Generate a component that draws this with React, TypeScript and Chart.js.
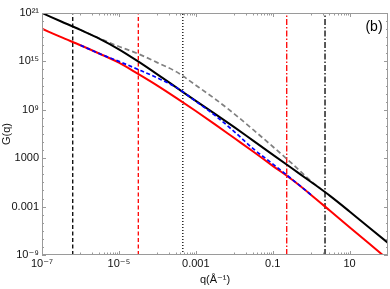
import React, { useEffect, useRef } from "react";
import { Chart, registerables } from "chart.js";

Chart.register(...registerables);

// log10 of q (Å^-1) sample positions
const qLog = [-7, -6.5, -6, -5.5, -5, -4.5, -4, -3.5, -3, -2.5, -2, -1.5, -1, -0.5, 0, 0.5, 1, 1.5, 2];
// log10 G(q) — black solid
const blackLogG = [21.0, 19.95, 18.9, 17.8, 16.5, 15.0, 13.4, 11.75, 10.1, 8.5, 6.85, 5.15, 3.45, 1.75, 0.05, -1.7, -3.6, -5.55, -7.5];
// log10 G(q) — red solid
const redLogG = [19.05, 18.0, 17.0, 15.95, 14.85, 13.45, 12.0, 10.45, 8.85, 7.2, 5.5, 3.8, 2.05, 0.35, -1.55, -3.55, -5.55, -7.55, -9.55];
// gray dashed
const grayQLog = [-6, -5.5, -5, -4.5, -4, -3.5, -3, -2.5, -2, -1.5, -1, -0.5, 0, 0.25];
const grayLogG = [18.9, 17.85, 16.85, 15.95, 14.85, 13.7, 12.05, 10.35, 8.5, 6.5, 4.45, 2.35, 0.15, -0.8];
// blue dashed
const blueQLog = [-6, -5.5, -5, -4.5, -4, -3.5, -3, -2.5, -2, -1.5, -1, -0.5, 0];
const blueLogG = [17.0, 15.95, 15.0, 14.0, 12.95, 11.75, 10.05, 8.3, 6.3, 4.15, 2.3, 0.4, -1.55];

// vertical marker positions (q)
const markerQ = [6.3e-7, 3.2e-5, 4.6e-4, 0.232, 2.3];
const markerColors = ["#000000", "#ff0000", "#000000", "#ff0000", "#000000"];
const markerDash = [[4, 2.5], [4, 2.5], [1, 2], [6, 2, 1.5, 2], [6, 2, 1.5, 2]];

const xTicks = [1e-7, 1e-5, 1e-3, 1e-1, 10];
const xTickLabels = ["10⁻⁷", "10⁻⁵", "0.001", "0.1", "10"];
const yTicks = [1e-9, 1e-3, 1e3, 1e9, 1e15, 1e21];
const yTickLabels = ["10⁻⁹", "0.001", "1000", "10⁹", "10¹⁵", "10²¹"];

const X_MIN = 1e-7, X_MAX = 100, Y_MIN = 1e-9, Y_MAX = 1e21;
const FONT = "'Liberation Sans', 'DejaVu Sans', Arial, sans-serif";

const toPts = (xs: number[], ys: number[]) => xs.map((v, i) => ({ x: Math.pow(10, v), y: Math.pow(10, ys[i]) }));

const framePlugin = {
  id: "frame",
  afterDatasetsDraw(chart: any) {
    const { ctx, chartArea: a, scales } = chart;
    const xs = scales.x, ys = scales.y;
    ctx.save();
    ctx.strokeStyle = "#9a9a9a";
    ctx.lineWidth = 1;
    ctx.setLineDash([]);
    ctx.strokeRect(a.left + 0.5, a.top + 0.5, a.right - a.left - 1, a.bottom - a.top - 1);
    ctx.beginPath();
    // x ticks: major at labels, minor in decade before each label
    const xMinor: number[] = [];
    for (let d = -7; d <= 1; d++) {
      if ((d + 7) % 2 === 1) for (let k = 1; k <= 9; k++) xMinor.push(k * Math.pow(10, d));
    }
    for (const v of xTicks) {
      const px = Math.round(xs.getPixelForValue(v)) + 0.5;
      ctx.moveTo(px, a.bottom); ctx.lineTo(px, a.bottom - 4);
      ctx.moveTo(px, a.top); ctx.lineTo(px, a.top + 4);
    }
    for (const v of xMinor) {
      if (v <= X_MIN || v >= X_MAX) continue;
      const px = Math.round(xs.getPixelForValue(v)) + 0.5;
      ctx.moveTo(px, a.bottom); ctx.lineTo(px, a.bottom - 2.5);
      ctx.moveTo(px, a.top); ctx.lineTo(px, a.top + 2.5);
    }
    for (const v of yTicks) {
      const py = Math.round(ys.getPixelForValue(v)) + 0.5;
      ctx.moveTo(a.left, py); ctx.lineTo(a.left + 4, py);
      ctx.moveTo(a.right, py); ctx.lineTo(a.right - 4, py);
    }
    for (let d = -8; d <= 20; d++) {
      const py = Math.round(ys.getPixelForValue(Math.pow(10, d))) + 0.5;
      ctx.moveTo(a.left, py); ctx.lineTo(a.left + 2, py);
      ctx.moveTo(a.right, py); ctx.lineTo(a.right - 2, py);
    }
    ctx.stroke();
    ctx.fillStyle = "#000";
    ctx.font = `14px ${FONT}`;
    ctx.textAlign = "center";
    ctx.textBaseline = "middle";
    ctx.fillText("(b)", a.right - 14, a.top + 14);
    ctx.restore();
  },
};

export default function App() {
  const ref = useRef<HTMLCanvasElement | null>(null);
  useEffect(() => {
    if (!ref.current) return;
    const markerSets = markerQ.map((q, i) => ({
      label: `marker${i}`,
      data: [{ x: q, y: Y_MIN }, { x: q, y: Y_MAX }],
      borderColor: markerColors[i],
      borderWidth: 1.3,
      borderDash: markerDash[i],
      pointRadius: 0,
      order: 5,
    }));
    const chart = new Chart(ref.current, {
      type: "line",
      data: {
        datasets: [
          {
            label: "blue",
            data: toPts(blueQLog, blueLogG),
            borderColor: "#0000ff",
            borderWidth: 1.7,
            borderDash: [4, 2.5],
            pointRadius: 0,
            cubicInterpolationMode: "monotone",
            order: 0,
          },
          {
            label: "red",
            data: toPts(qLog, redLogG),
            borderColor: "#ff0000",
            borderWidth: 2,
            pointRadius: 0,
            cubicInterpolationMode: "monotone",
            order: 1,
          },
          {
            label: "black",
            data: toPts(qLog, blackLogG),
            borderColor: "#000000",
            borderWidth: 2,
            pointRadius: 0,
            cubicInterpolationMode: "monotone",
            order: 2,
          },
          {
            label: "gray",
            data: toPts(grayQLog, grayLogG),
            borderColor: "#808080",
            borderWidth: 1.7,
            borderDash: [5, 3],
            pointRadius: 0,
            cubicInterpolationMode: "monotone",
            order: 3,
          },
          ...markerSets,
        ] as any,
      },
      options: {
        responsive: false,
        animation: false,
        layout: { padding: { top: 13, right: 2, left: 0, bottom: 0 } },
        plugins: { legend: { display: false }, tooltip: { enabled: false } },
        scales: {
          x: {
            type: "logarithmic",
            min: X_MIN,
            max: X_MAX,
            grid: { display: false, drawTicks: false },
            border: { display: false },
            afterBuildTicks: (s: any) => { s.ticks = xTicks.map((v) => ({ value: v })); },
            afterFit: (s: any) => { s.height = 34; },
            ticks: {
              autoSkip: false,
              maxRotation: 0,
              padding: 2,
              color: "#111",
              font: { family: FONT, size: 11 },
              callback: (_v: any, i: number) => xTickLabels[i],
            },
            title: {
              display: true,
              text: "q(Å⁻¹)",
              color: "#111",
              font: { family: FONT, size: 11 },
              padding: { top: 0, bottom: 2 },
            },
          },
          y: {
            type: "logarithmic",
            min: Y_MIN,
            max: Y_MAX,
            grid: { display: false, drawTicks: false },
            border: { display: false },
            afterBuildTicks: (s: any) => { s.ticks = yTicks.map((v) => ({ value: v })); },
            afterFit: (s: any) => { s.width = 42; },
            ticks: {
              autoSkip: false,
              padding: 3,
              color: "#111",
              font: { family: FONT, size: 11 },
              callback: (_v: any, i: number) => yTickLabels[i],
            },
            title: {
              display: true,
              text: "G(q)",
              color: "#111",
              font: { family: FONT, size: 11 },
              padding: { top: 0, bottom: 0 },
            },
          },
        },
      },
      plugins: [framePlugin],
    });
    return () => chart.destroy();
  }, []);
  return (
    <div style={{ position: "absolute", left: 0, top: 0, width: 390, height: 289, background: "#fff" }}>
      <canvas ref={ref} width={390} height={289} />
    </div>
  );
}
